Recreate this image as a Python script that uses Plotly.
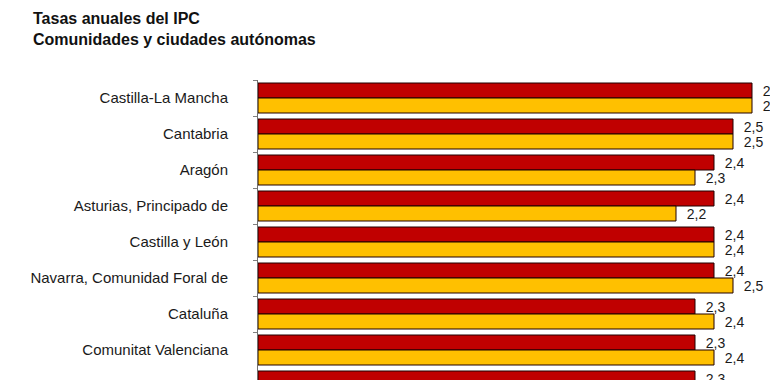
import plotly.graph_objects as go

categories = [
    "Castilla-La Mancha",
    "Cantabria",
    "Aragón",
    "Asturias, Principado de",
    "Castilla y León",
    "Navarra, Comunidad Foral de",
    "Cataluña",
    "Comunitat Valenciana",
    "Galicia",
]
serie_roja = [2.6, 2.5, 2.4, 2.4, 2.4, 2.4, 2.3, 2.3, 2.3]
serie_amarilla = [2.6, 2.5, 2.3, 2.2, 2.4, 2.5, 2.4, 2.4, None]

FONT = "Arial, 'Liberation Sans', sans-serif"
W, H = 770, 380
PX_PER_UNIT = 190.0
PLOT_LEFT = 258
PLOT_W = W - PLOT_LEFT
ROW_H = 36.0
PLOT_TOP = 80
PLOT_H = H - PLOT_TOP

fig = go.Figure()
for vals, color in [(serie_roja, "#C00000"), (serie_amarilla, "#FFC000")]:
    fig.add_trace(go.Bar(
        y=categories, x=vals, orientation="h",
        marker=dict(color=color, line=dict(color="#200000", width=1)),
        texttemplate="\u00a0\u00a0%{x:.1f}", textposition="outside", constraintext="none",
        textfont=dict(family=FONT, size=14, color="#1a1a1a"),
        cliponaxis=False, showlegend=False,
    ))

fig.update_layout(
    width=W, height=H,
    margin=dict(l=PLOT_LEFT, r=0, t=PLOT_TOP, b=0, autoexpand=False),
    paper_bgcolor="white", plot_bgcolor="white",
    barmode="group", bargap=6 / 36, bargroupgap=0,
    separators=", ",
    font=dict(family=FONT, size=15, color="#1a1a1a"),
    title=dict(
        text="<b>Tasas anuales del IPC<br>Comunidades y ciudades autónomas</b>",
        font=dict(family=FONT, size=16, color="#111111"),
        xref="container", yref="container",
        x=33 / W, xanchor="left", y=1 - 24 / H, yanchor="top",
    ),
    xaxis=dict(
        range=[0, PLOT_W / PX_PER_UNIT],
        showticklabels=False, showgrid=False, zeroline=False, showline=False,
    ),
    yaxis=dict(
        type="category",
        range=[PLOT_H / ROW_H - 0.5, -0.5],
        showline=True, linecolor="#707070", linewidth=1,
        ticks="outside", ticklen=4, tickcolor="#808080", tickson="boundaries",
        showgrid=False, ticklabelstandoff=26,
        tickfont=dict(family=FONT, size=15, color="#1a1a1a"),
    ),
)

fig.write_html(
    "out.html",
    config={"displayModeBar": False},
    post_script="document.body.style.margin='0';document.body.style.overflow='hidden';",
)
